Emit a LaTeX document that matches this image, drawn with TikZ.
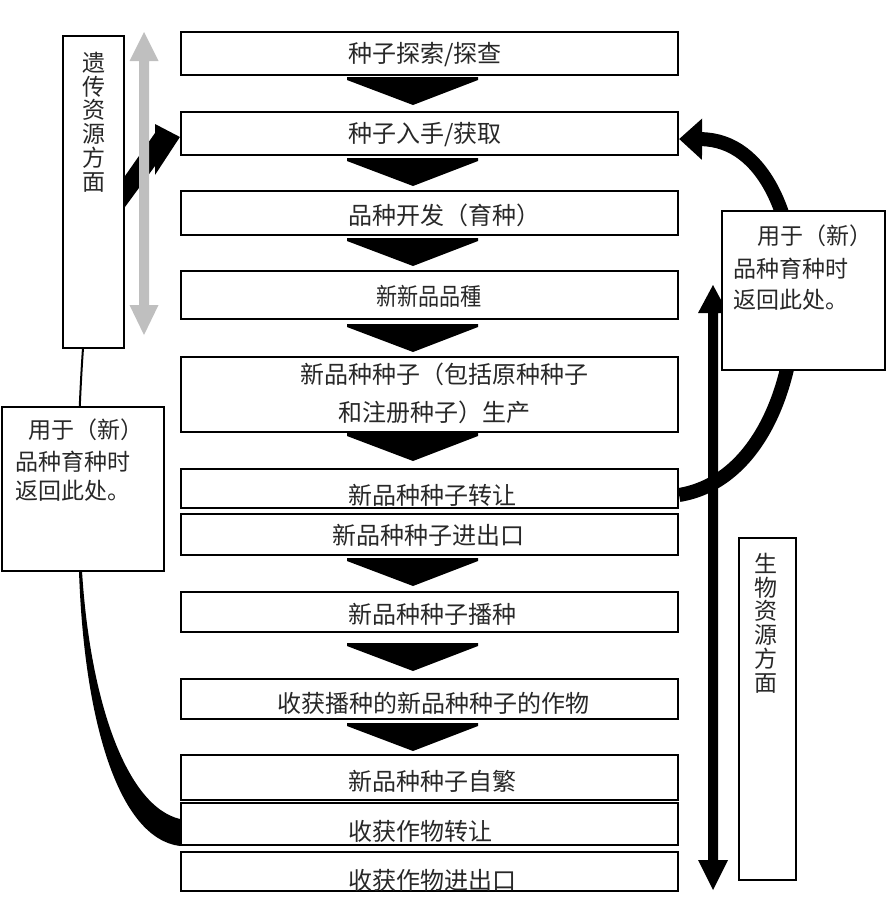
\documentclass[tikz,border=0pt]{standalone}
\usepackage{fontspec}
\usetikzlibrary{arrows.meta}
\newfontfamily\cjk{Noto Sans CJK SC}
\definecolor{arrowgray}{RGB}{191,191,191}
\definecolor{txt}{RGB}{40,40,40}
\begin{document}
\begin{tikzpicture}[x=1pt,y=-1pt,
  mainbox/.style={draw,line width=2.2pt,fill=white,inner sep=0pt,minimum width=497pt},
  sidebox/.style={draw,line width=2pt,fill=white,inner sep=0pt},
  lbl/.style={font=\cjk\fontsize{24}{28}\selectfont,text=txt,inner sep=0pt,anchor=west},
  slbl/.style={font=\cjk\fontsize{23}{28}\selectfont,text=txt,inner sep=0pt,anchor=west},
  vlbl/.style={font=\cjk\fontsize{23}{23.7}\selectfont,text=txt,inner sep=0pt,anchor=north,align=center},
  chev/.style={fill=black},
  blk/.style={fill=black}]
\useasboundingbox (0,0) rectangle (886,921);

% main boxes
\node[mainbox,minimum height=43pt] (b1) at (429.5,53.5) {};
\node[mainbox,minimum height=43pt] (b2) at (429.5,133.5) {};
\node[mainbox,minimum height=44pt] (b3) at (429.5,213) {};
\node[mainbox,minimum height=48pt] (b4) at (429.5,295) {};
\node[mainbox,minimum height=75pt] (b5) at (429.5,394.5) {};
\node[mainbox,minimum height=39pt] (b6) at (429.5,488.5) {};
\node[mainbox,minimum height=41pt] (b7) at (429.5,534.5) {};
\node[mainbox,minimum height=40pt] (b8) at (429.5,612) {};
\node[mainbox,minimum height=40pt] (b9) at (429.5,699) {};
\node[mainbox,minimum height=45pt] (b10) at (429.5,777.5) {};
\node[mainbox,minimum height=42pt] (b11) at (429.5,824) {};
\node[mainbox,minimum height=39pt] (b12) at (429.5,871.5) {};

% texts
\node[lbl] (t1) at (348,55) {种子探索/探查};
\node[lbl] (t2) at (348,135) {种子入手/获取};
\node[lbl] (t3) at (348,215) {品种开发（育种）};
\node[lbl] (t4) at (376,296) {\scalebox{0.88}[1]{新新品品種}};
\node[lbl] (t5a) at (300,374) {新品种种子（包括原种种子};
\node[lbl] (t5b) at (338,412) {和注册种子）生产};
\node[lbl] (t6) at (348,495) {新品种种子转让};
\node[lbl] (t7) at (332,535) {新品种种子进出口};
\node[lbl] (t8) at (348,614) {新品种种子播种};
\node[lbl] (t9) at (277,703) {收获播种的新品种种子的作物};
\node[lbl] (t10) at (348,781) {新品种种子自繁};
\node[lbl] (t11) at (348,831) {收获作物转让};
\node[lbl] (t12) at (348,880) {收获作物进出口};

% chevrons
\foreach \t in {77,158,238,324,433,558,643,723}{
  \fill[chev] (347,\t) -- (478,\t) -- (478,\t+3) -- (413,\t+28) -- (347,\t+3) -- cycle;
}

% left tall box
\node[sidebox,minimum width=61pt,minimum height=312pt] (gl) at (93.5,192) {};
\node[vlbl] (glt) at (93.5,52) {遗\\传\\资\\源\\方\\面};

% left thin connector and wedge to b11
\coordinate (lw0) at (83,348);
\coordinate (lw1) at (80,571);
\draw[line width=2pt] (lw0) .. controls (76,450) and (78,520) .. (lw1);
\fill[blk] (79,571) .. controls (84,720) and (118,838) .. (b11.west |- 0,846)
  -- (b11.west |- 0,819) .. controls (126,806) and (90,700) .. (82,571) -- cycle;

% left black block arrow into b2
\fill[blk] (gl.east |- 0,176) -- (155,133) -- (155,124) -- (b2.west |- 0,137) -- (155,175) -- (155,166) -- (gl.east |- 0,207) -- cycle;

% gray double arrow
\fill[arrowgray] (144,32) -- (158.5,61) -- (149,61) -- (149,305) -- (158.5,305) -- (144,335) -- (129.5,305) -- (139,305) -- (139,61) -- (129.5,61) -- cycle;

% right vertical black double arrow
\fill[blk] (713,285) -- (728,313) -- (718,313) -- (718,860) -- (728,860) -- (713,890) -- (698,860) -- (708,860) -- (708,313) -- (698,313) -- cycle;

% right curved arrow from b6 back to b2
\draw[line width=14pt,-{Triangle[length=23pt,width=40pt]}]
  ([yshift=-6.5pt]b6.east) .. controls (830,470) and (830,140) .. ([yshift=-5.5pt]b2.east);

% left small box
\node[sidebox,minimum width=162pt,minimum height=164pt] (nl) at (83,489) {};
\node[slbl] (nl1) at (28,430) {用于（新）};
\node[slbl] (nl2) at (15,462) {品种育种时};
\node[slbl] (nl3) at (15,491) {返回此处。};

% right small box
\node[sidebox,minimum width=163pt,minimum height=159pt] (nr) at (803.5,290.5) {};
\node[slbl] (nr1) at (757,236) {用于（新）};
\node[slbl] (nr2) at (733,269) {品种育种时};
\node[slbl] (nr3) at (733,300) {返回此处。};

% right tall box
\node[sidebox,minimum width=57pt,minimum height=342pt] (gr) at (767.5,709) {};
\node[vlbl] (grt) at (766,553) {生\\物\\资\\源\\方\\面};
\end{tikzpicture}
\end{document}
